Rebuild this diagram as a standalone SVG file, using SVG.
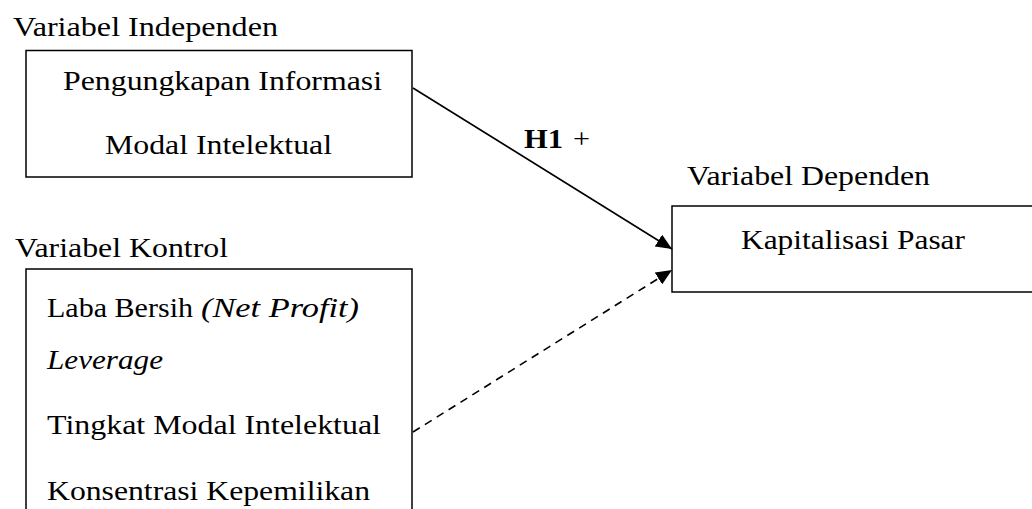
<svg xmlns="http://www.w3.org/2000/svg" width="1032" height="509" viewBox="0 0 1032 509" font-family="'Liberation Serif', 'Times New Roman', Times, serif">
<style>
text{font-family:'Liberation Serif','Times New Roman',Times,serif;font-size:27px;fill:#000}
.box{fill:#fff;stroke:#000;stroke-width:1.5}
.it{font-style:italic}
.b{font-weight:bold}
.con{stroke:#000;stroke-width:1.6;fill:none}
</style>
<defs>
<marker id="ah" markerUnits="userSpaceOnUse" markerWidth="18" markerHeight="14" refX="16" refY="7" orient="auto">
<path d="M0,0 L16,7 L0,14 Z" fill="#000"/>
</marker>
</defs>
<rect width="1032" height="509" fill="#fff"/>
<g id="label-independen"><text x="13" y="36" textLength="265" lengthAdjust="spacingAndGlyphs">Variabel Independen</text></g>
<g id="node-independen">
<rect class="box" x="26" y="50.5" width="386" height="126.5"/>
<text x="63" y="90" textLength="319" lengthAdjust="spacingAndGlyphs">Pengungkapan Informasi</text>
<text x="105" y="154" textLength="227" lengthAdjust="spacingAndGlyphs">Modal Intelektual</text>
</g>
<g id="label-dependen"><text x="687" y="185" textLength="243" lengthAdjust="spacingAndGlyphs">Variabel Dependen</text></g>
<g id="node-dependen">
<rect class="box" x="672" y="206" width="370" height="86"/>
<text x="741" y="249" textLength="224" lengthAdjust="spacingAndGlyphs">Kapitalisasi Pasar</text>
</g>
<g id="label-kontrol"><text x="15" y="257" textLength="213" lengthAdjust="spacingAndGlyphs">Variabel Kontrol</text></g>
<g id="node-kontrol">
<rect class="box" x="26" y="269" width="386" height="260"/>
<text x="47" y="317" textLength="146" lengthAdjust="spacingAndGlyphs">Laba Bersih</text>
<text class="it" x="201" y="317" textLength="158" lengthAdjust="spacingAndGlyphs">(Net Profit)</text>
<text class="it" x="47" y="369" textLength="116" lengthAdjust="spacingAndGlyphs">Leverage</text>
<text x="47" y="434" textLength="334" lengthAdjust="spacingAndGlyphs">Tingkat Modal Intelektual</text>
<text x="47" y="500" textLength="323" lengthAdjust="spacingAndGlyphs">Konsentrasi Kepemilikan</text>
</g>
<g id="connectors">
<line class="con" x1="413" y1="88" x2="672" y2="249" marker-end="url(#ah)"/>
<line class="con" x1="413" y1="432" x2="672" y2="270" stroke-dasharray="8,6" marker-end="url(#ah)"/>
<text x="524" y="148"><tspan class="b" textLength="39" lengthAdjust="spacingAndGlyphs">H1</tspan><tspan x="573" textLength="17" lengthAdjust="spacingAndGlyphs">+</tspan></text>
</g>
</svg>
